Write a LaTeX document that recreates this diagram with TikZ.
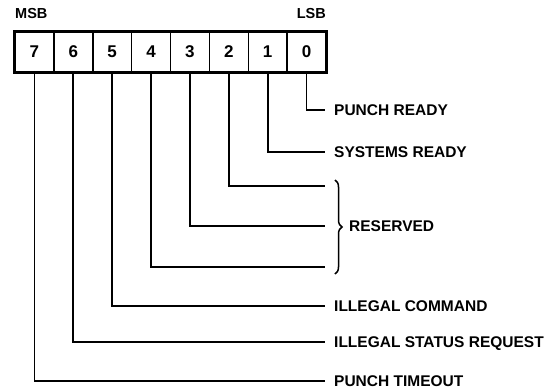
\documentclass[tikz,border=0pt]{standalone}
\usepackage{fontspec}
\setmainfont{Liberation Sans}
\usetikzlibrary{decorations.pathreplacing}
\begin{document}
\begin{tikzpicture}[x=1pt,y=-1pt,
  lbl/.style={font=\fontsize{15.5}{18}\selectfont\bfseries, inner sep=0pt, anchor=base west},
  hdr/.style={font=\fontsize{14.5}{17}\selectfont\bfseries, inner sep=0pt, anchor=base west},
  cell/.style={draw, line width=1.5pt, minimum width=38.875pt, minimum height=40pt, inner sep=0pt,
    font=\fontsize{17}{20}\selectfont\bfseries},
  wire/.style={line width=1.8pt},
  bracestyle/.style={decorate, decoration={brace, amplitude=7pt}, line width=1.5pt}]
\useasboundingbox (0,0) rectangle (558,389);
% register cells
\foreach \i in {0,...,7}
  \node[cell] (c\i) at ({15+38.875*(7.5-\i)},52) {\i};
\draw[line width=3pt] (c7.north west) rectangle (c0.south east);
% headers
\node[hdr] (msb) at (15,18) {MSB};
\node[hdr, anchor=base east] (lsb) at (326,18) {LSB};
% end points of wires
\coordinate (e0) at (325,110);
\coordinate (e1) at (325,152);
\coordinate (e2) at (325,186);
\coordinate (e3) at (325,226);
\coordinate (e4) at (325,267);
\coordinate (e5) at (325,306);
\coordinate (e6) at (325,342);
\coordinate (e7) at (325,381);
% labels
\node[lbl] (t0) at (334,115.5) {PUNCH READY};
\node[lbl] (t1) at (334,157.5) {SYSTEMS READY};
\node[lbl] (tr) at (349,231.5) {RESERVED};
\node[lbl] (t5) at (334,311.5) {ILLEGAL COMMAND};
\node[lbl] (t6) at (334,347.5) {ILLEGAL STATUS REQUEST};
\node[lbl] (t7) at (334,386.5) {PUNCH TIMEOUT};
% wires
\foreach \i in {0,...,7}
  \draw[wire] (c\i.south) |- (e\i);
% brace
\coordinate (bt) at (335,180);
\coordinate (bb) at (335,274);
\draw[bracestyle] (bt) -- (bb);
\end{tikzpicture}
\end{document}
